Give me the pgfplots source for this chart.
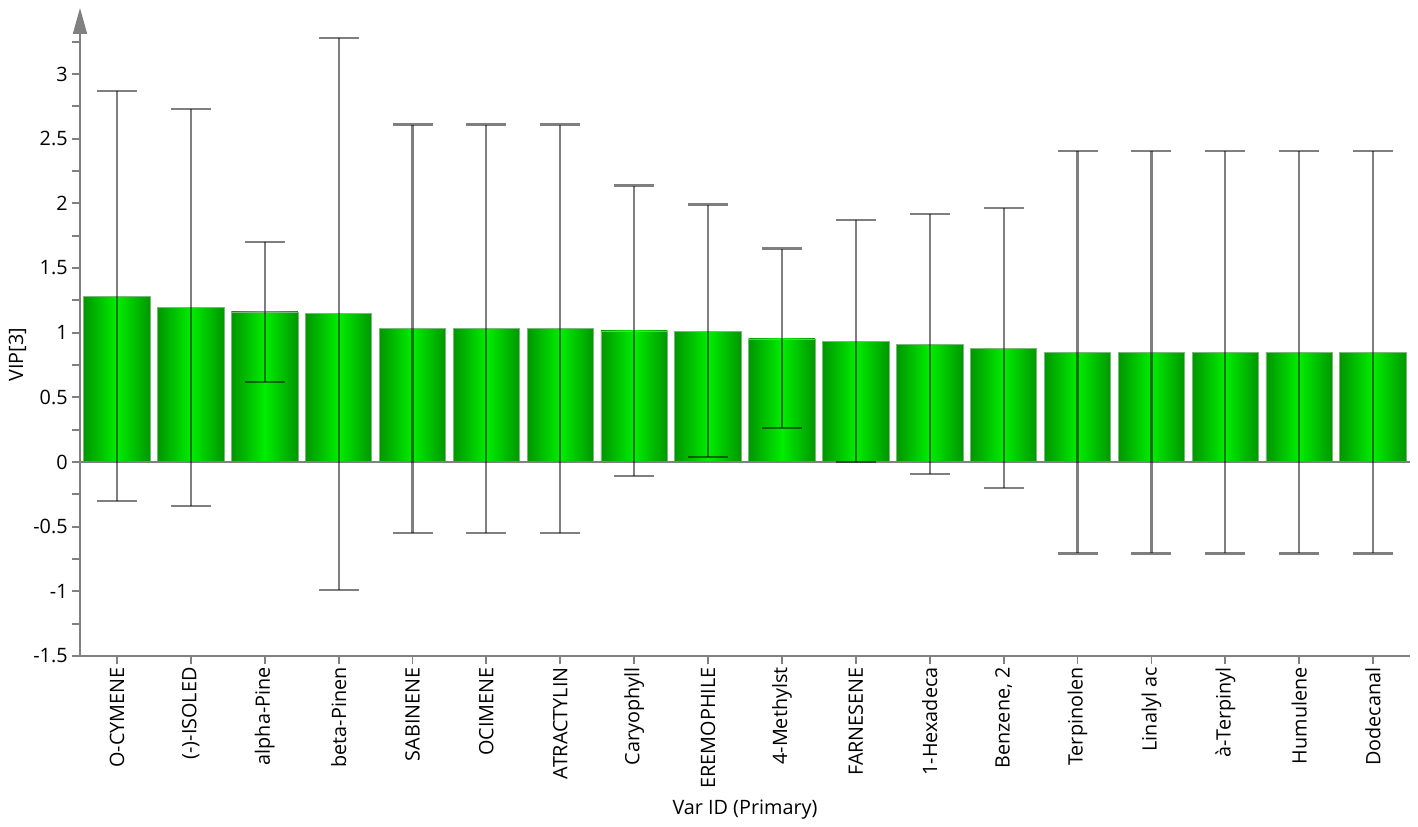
\documentclass[border=0pt]{standalone}
\usepackage{fontspec}
\setmainfont{Open Sans}
\usepackage{pgfplots}
\pgfplotsset{compat=1.18}
\usetikzlibrary{arrows.meta}
\definecolor{axgray}{RGB}{128,128,128}
\definecolor{gdark}{RGB}{0,150,0}
\definecolor{glight}{RGB}{0,238,0}
\definecolor{gedge}{RGB}{120,185,120}
\pgfplotstableread{
x y ep em
0 1.281 1.585 1.581
1 1.193 1.535 1.533
2 1.160 0.540 0.541
3 1.147 2.133 2.137
4 1.031 1.578 1.578
5 1.031 1.578 1.578
6 1.031 1.578 1.578
7 1.013 1.124 1.119
8 1.010 0.980 0.969
9 0.951 0.699 0.686
10 0.933 0.941 0.933
11 0.912 1.008 1.005
12 0.881 1.085 1.080
13 0.848 1.559 1.555
14 0.848 1.559 1.555
15 0.848 1.559 1.555
16 0.848 1.559 1.555
17 0.848 1.559 1.555
}\vipdata
\begin{document}
\begin{tikzpicture}
\useasboundingbox (-40pt,-85pt) rectangle (669pt,328pt);
\begin{axis}[
  at={(0,0)}, anchor=south west,
  scale only axis,
  width=665pt, height=324pt,
  xmin=-0.5, xmax=17.5,
  ymin=-1.5, ymax=3.51,
  axis x line*=bottom,
  axis y line*=left,
  x axis line style={-, axgray, line width=1pt},
  y axis line style={-{Triangle[length=13pt,width=7pt]}, axgray, line width=1pt},
  tick align=outside,
  major tick length=4pt,
  minor tick length=4pt,
  tick style={axgray, line width=0.9pt},
  xtick={0,...,17},
  xticklabels={O-CYMENE,(-)-ISOLED,alpha-Pine,beta-Pinen,SABINENE,OCIMENE,ATRACTYLIN,Caryophyll,EREMOPHILE,4-Methylst,FARNESENE,1-Hexadeca,{Benzene, 2},Terpinolen,Linalyl ac,à-Terpinyl,Humulene,Dodecanal},
  xticklabel style={rotate=90, anchor=east, font=\fontsize{9.9}{11}\selectfont, inner sep=1.5pt},
  ytick={-1.5,-1,-0.5,0,0.5,1,1.5,2,2.5,3},
  yticklabels={-1.5,-1,-0.5,0,0.5,1,1.5,2,2.5,3},
  minor ytick={-1.25,-0.75,-0.25,0.25,0.75,1.25,1.75,2.25,2.75,3.25},
  yticklabel style={font=\fontsize{9.9}{11}\selectfont, inner sep=2pt},
  ylabel={VIP[3]},
  ylabel style={at={(axis description cs:-0.047,0.465)}, anchor=center, font=\fontsize{9.9}{11}\selectfont},
  xlabel={Var ID (Primary)},
  xlabel style={at={(axis description cs:0.5,0)}, anchor=center, yshift=-77pt, font=\fontsize{9.9}{11}\selectfont},
  clip=false,
]
\pgfplotsinvokeforeach{0,...,17}{
\addplot[ybar, bar width=0.9, bar shift=0pt, draw=gedge, line width=0.4pt,
  left color=gdark, right color=gdark, middle color=glight,
  restrict x to domain=#1:#1]
  table[x=x, y=y] {\vipdata};
}
\draw[axgray, line width=1pt] (axis cs:-0.5,0) -- (axis cs:17.5,0);
\addplot[draw=none, mark=none,
  error bars/.cd, y dir=both, y explicit,
  error bar style={black, opacity=0.5, line width=1.1pt},
  error mark options={black, opacity=0.5, line width=1.1pt, mark size=10pt, rotate=90}]
  table[x=x, y=y, y error plus=ep, y error minus=em] {\vipdata};
\end{axis}
\end{tikzpicture}
\end{document}
